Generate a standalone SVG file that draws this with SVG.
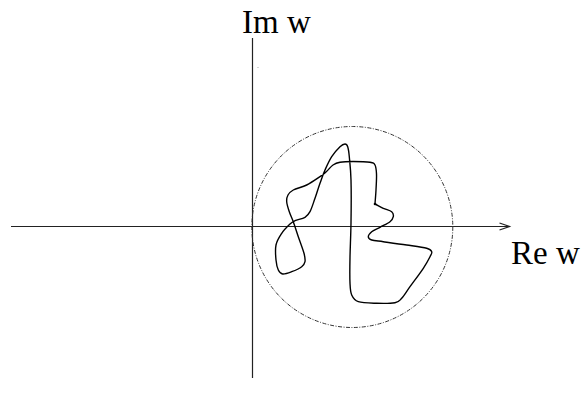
<svg xmlns="http://www.w3.org/2000/svg" width="584" height="406" viewBox="0 0 584 406">
<style>
.axis{stroke:#222;stroke-width:1.2;fill:none}
.lbl{font-family:"Liberation Serif","Times New Roman",serif;font-size:33px;fill:#000}
.circ{stroke:#333;stroke-width:1;fill:none;stroke-dasharray:4 1.5 1 1.5}
.curve{stroke:#000;stroke-width:1.4;fill:none;stroke-linejoin:round;stroke-linecap:round}
</style>
<rect width="584" height="406" fill="#fff"/>
<g id="connectors">
<line class="axis" x1="11" y1="226.5" x2="509" y2="226.5"/>
<polyline class="axis" points="499.5,223 509.5,226.5 499.5,230"/>
<line class="axis" x1="252.5" y1="38" x2="252.5" y2="378"/>
</g>
<g id="circle">
<circle class="circ" cx="352.3" cy="227" r="100.5"/>
</g>
<g id="curve">
<path class="curve" d="M375,204 C375.3,199.3 375.75,195 376,190 S376.7,178.2 376.5,174 S376.1,167 375,165 S373.7,162.9 370,162.3 S358,161.5 353,161.5 S343.3,161.7 340,162.3 S335.3,163.5 333,165 S328.7,169.6 326.5,171.5 S323.3,174.5 320,176.7 S311.2,182.8 306.7,185 S296.4,188.3 293.3,190 S289.1,193 288,195 S286.5,198.9 286.7,201.7 S288.2,208.4 289.3,211.7 S291.8,217.5 293.3,221.7 S296.5,231.4 298.3,236.7 S302.9,249.1 304,253.3 S305.4,259.5 305,261.7 S303.9,265 301.7,266.7 S294.9,270.5 291.7,271.7 S284.9,274.3 282.7,274 S279.4,272.3 278.3,270 S276.4,264.2 276,260 S275.1,249.5 276,245 S279.4,236.8 281.7,233.3 S287.8,226.1 290,224 S292.5,221.8 295,220.7 S302.5,218.8 305,217.3 S308.3,214.9 310,211.7 S313.3,203 315,198.3 S318.3,188 320,183.3 S323,174.4 325,170 S329.2,160.6 331.7,156.7 S337.8,148.8 340,146.7 S343.7,144 345,144 S347,144.6 347.7,146.7 S348.8,151.2 349.3,156.7 S350.7,169 351,180 S351.2,210.2 351,223 S350.2,247 350,257 S349.7,276.7 350,283 S350.3,291.9 351.7,295 S354.1,300.3 358.3,301.7 S370.6,303.1 376.7,303.3 S390.8,303.5 395,302.7 S399.2,301 401.7,298.3 S406.4,291.7 410,286.7 S420,273.3 423.3,268.3 S428.6,259.5 430,256.7 S432.3,253.1 431.7,251.7 S430.9,249.4 426.7,248.3 S413.9,246.1 406.7,245 S389.1,242.5 383.3,241.7 S374.2,240.8 371.7,240 S368.3,238.1 368.3,236.7 S369.8,233.3 371.7,231.7 S377,229 380,227.3 S387.8,223.5 390,221.7 S393,218.4 393.3,216.7 S393.4,213.1 391.7,211.7 S386.1,209.6 383.3,208.3 S377.8,205.4 375,204"/>
<circle cx="375" cy="204" r="1.3" fill="#000"/>
</g>
<rect x="257.5" y="67" width="1" height="1" fill="#aaa"/>
<g id="label-im">
<text class="lbl" x="242" y="33">Im w</text>
</g>
<g id="label-re">
<text class="lbl" x="511" y="264">Re w</text>
</g>
</svg>
